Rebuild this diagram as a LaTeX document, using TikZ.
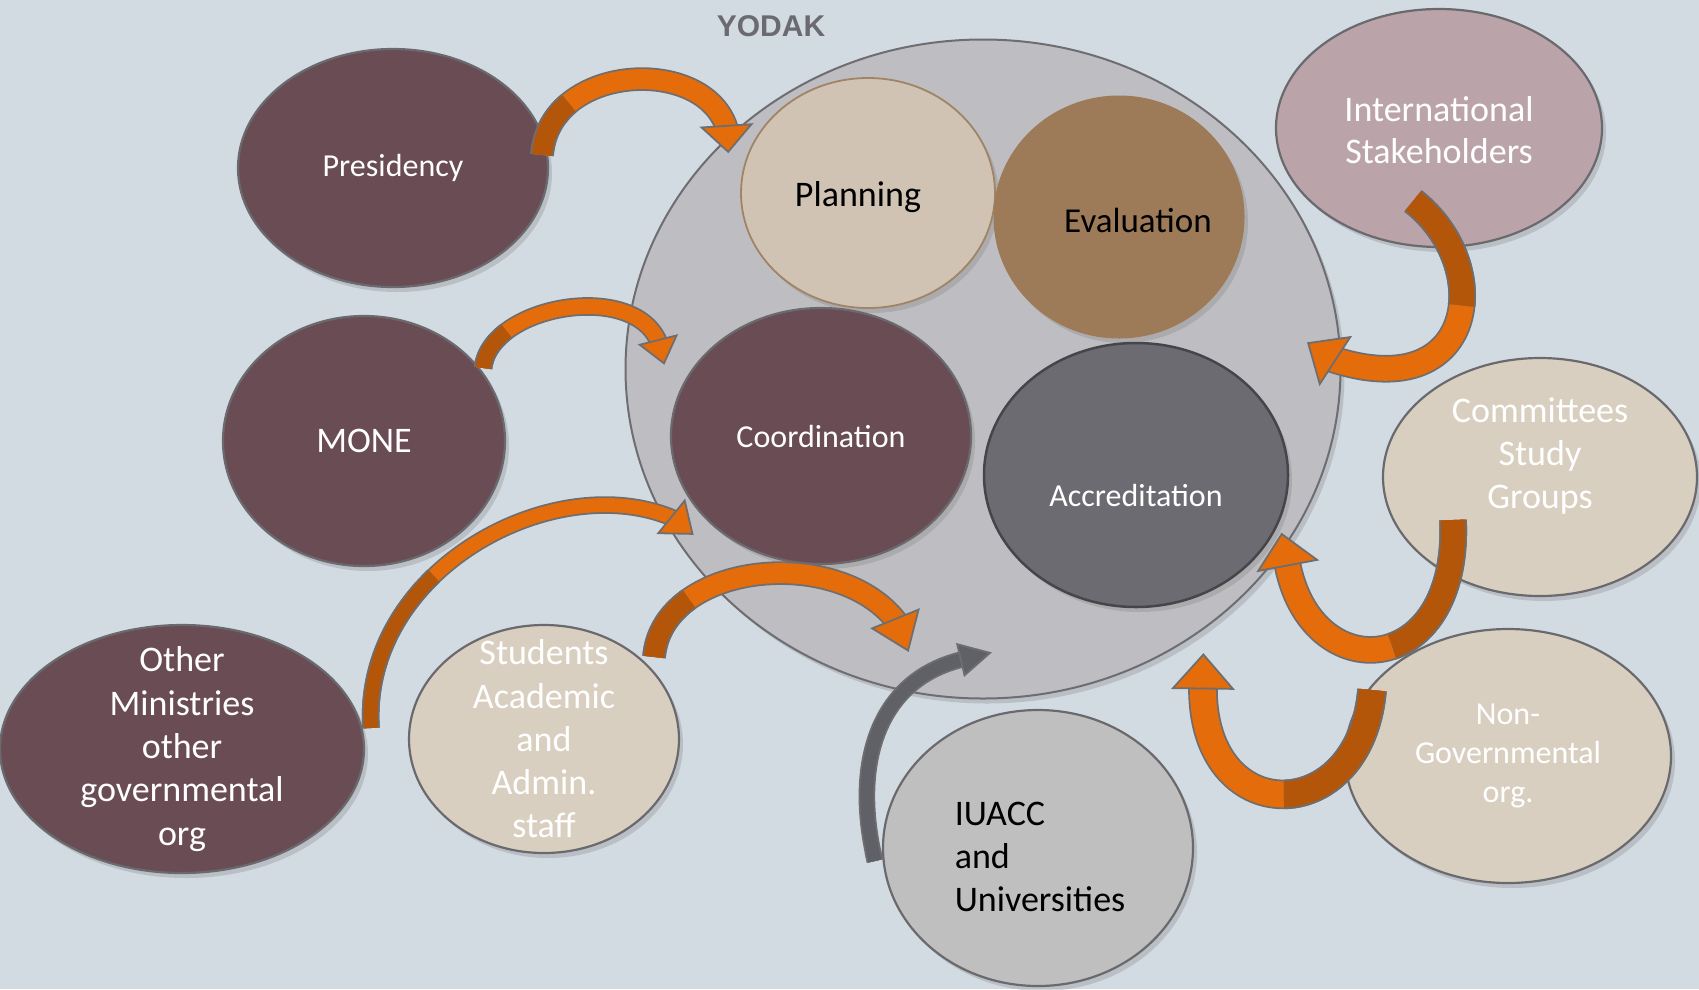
\documentclass[tikz,border=0pt]{standalone}
\usepackage{fontspec}
\setmainfont{Carlito}
\newfontfamily\titlefont{Liberation Sans}
\usetikzlibrary{shapes.geometric,shadows,decorations.markings,calc}
\definecolor{bgc}{HTML}{D3DBE2}
\definecolor{bigc}{HTML}{BEBEC2}
\definecolor{bigedge}{HTML}{6D6D72}
\definecolor{oedge}{HTML}{6A6A6E}
\definecolor{maroon}{HTML}{6A4C55}
\definecolor{beige}{HTML}{D9CFC1}
\definecolor{planc}{HTML}{D0C3B4}
\definecolor{planedge}{HTML}{A08466}
\definecolor{evalc}{HTML}{9D7B58}
\definecolor{accc}{HTML}{6C6B71}
\definecolor{accedge}{HTML}{45454A}
\definecolor{intlc}{HTML}{BBA3AA}
\definecolor{iuaccc}{HTML}{BFBFBF}
\definecolor{aor}{HTML}{E46C0A}
\definecolor{adk}{HTML}{B4560A}
\definecolor{agray}{HTML}{606166}
\definecolor{aedge}{HTML}{6E6E70}
\definecolor{titlec}{HTML}{6A6A70}
\colorlet{amain}{aor}
\newcommand\myfs[2]{\fontsize{#1}{#2}\selectfont}
% #1 tail, #2 ctrl1 (rel), #3 ctrl2 (rel), #4 head base, #5 band width,
% #6 dark length, #7 head half width, #8 head length, #9 head rotation
\newcommand\barrow[9]{%
 \draw[aedge,line width=1.8pt,double=amain,double distance=#5] (#1) .. controls +#2 and +#3 .. (#4);
 \draw[aedge,line width=1.8pt,double=adk,double distance=#5,dash pattern=on #6 off 5000pt] (#1) .. controls +#2 and +#3 .. (#4);
 \path[decoration={markings,mark=at position 0.995 with {\filldraw[rotate=#9,fill=amain,draw=aedge,line width=1.8pt,line join=miter] (-2pt,-#7) -- (#8,0pt) -- (-2pt,#7) -- cycle;}},decorate] (#1) .. controls +#2 and +#3 .. (#4);
}
\begin{document}
\begin{tikzpicture}[x=1pt,y=-1pt,
  oval/.style={ellipse,inner sep=0pt,outer sep=0pt,line width=2.2pt,draw=oedge,
    drop shadow={shadow xshift=4pt,shadow yshift=-5pt,opacity=0.3}},
  lbl/.style={align=center,inner sep=0pt,text=white},
  lblk/.style={align=center,inner sep=0pt,text=black}]
\useasboundingbox (0,0) rectangle (1699,989);
\fill[bgc] (0,0) rectangle (1699,989);
% central body
\node[oval,fill=bigc,draw=bigedge,line width=2pt,minimum width=715pt,minimum height=659pt] (yodak) at (983,369) {};
\node[oval,fill=planc,draw=planedge,line width=1.8pt,minimum width=254pt,minimum height=230pt] (plan) at (868,193) {};
\node[oval,fill=evalc,draw=evalc,line width=1pt,minimum width=250pt,minimum height=242pt] (eval) at (1119,217) {};
\node[oval,fill=maroon,minimum width=300pt,minimum height=256pt] (coord) at (821,436) {};
\node[oval,fill=accc,draw=accedge,line width=2.5pt,minimum width=304pt,minimum height=264pt] (acc) at (1136,475) {};
% outer bodies
\node[oval,fill=maroon,minimum width=310pt,minimum height=238pt] (pres) at (393,168) {};
\node[oval,fill=maroon,minimum width=282pt,minimum height=250pt] (mone) at (364,441) {};
\node[oval,fill=maroon,minimum width=364pt,minimum height=248pt] (other) at (182,749) {};
\node[oval,fill=beige,minimum width=270pt,minimum height=228pt] (stud) at (544,739) {};
\node[oval,fill=iuaccc,minimum width=310pt,minimum height=276pt] (iuacc) at (1038,848) {};
\node[oval,fill=beige,minimum width=326pt,minimum height=254pt] (ngo) at (1508,756) {};
\node[oval,fill=beige,minimum width=314pt,minimum height=238pt] (comm) at (1540,477) {};
\node[oval,fill=intlc,minimum width=326pt,minimum height=238pt] (intl) at (1439,128) {};
% arrow ends
\coordinate (t1) at ($(pres)+(149,-13)$);
\coordinate (h1) at ($(yodak)+(-256,-240)$);
\coordinate (t2) at ($(mone)+(119,-73)$);
\coordinate (h2) at ($(coord)+(-162,-93)$);
\coordinate (t3) at ($(other)+(189,-21)$);
\coordinate (h3) at ($(coord)+(-146,83)$);
\coordinate (t4) at ($(stud)+(110,-82)$);
\coordinate (h4) at ($(yodak)+(-86,253)$);
\coordinate (t5) at ($(iuacc)+(-163,13)$);
\coordinate (h5) at ($(yodak)+(-19,290)$);
\coordinate (t6) at ($(intl)+(-26,73)$);
\coordinate (h6) at ($(yodak)+(349,-10)$);
\coordinate (t7) at ($(comm)+(-87,43)$);
\coordinate (h7) at ($(acc)+(151,87)$);
\coordinate (t8) at ($(ngo)+(-136,-66)$);
\coordinate (h8) at ($(yodak)+(220,316)$);
% arrows
\barrow{t1}{(7,-92)}{(-22,-74)}{h1}{20pt}{60pt}{25pt}{24pt}{-14}
\barrow{t2}{(7,-63)}{(-24,-63)}{h2}{15pt}{45pt}{19pt}{22pt}{-8}
\barrow{t3}{(-10,-158)}{(-120,-53)}{h3}{14pt}{170pt}{21pt}{25pt}{-16}
\barrow{t4}{(8,-95)}{(-59,-78)}{h4}{20pt}{70pt}{25pt}{32pt}{-16}
{\colorlet{amain}{agray}\colorlet{adk}{agray}%
 \barrow{t5}{(-24,-101)}{(-84,19)}{h5}{13pt}{10pt}{16pt}{28pt}{0}}
\barrow{t6}{(83,65)}{(145,48)}{h6}{24pt}{120pt}{28pt}{30pt}{-15}
\barrow{t7}{(7,160)}{(23,128)}{h7}{24pt}{150pt}{30pt}{30pt}{0}
\barrow{t8}{(-12,140)}{(-3,145)}{h8}{26pt}{150pt}{30pt}{32pt}{0}
% texts
\node[font=\titlefont\bfseries\myfs{30}{36},text=titlec] (title) at (771,26) {YODAK};
\node[lblk,font=\myfs{36}{43}] (planT) at ($(plan)+(-10,4)$) {Planning};
\node[lblk,font=\myfs{35}{42}] (evalT) at ($(eval)+(19,3)$) {Evaluation};
\node[lbl,font=\myfs{32}{38}] (coordT) at (coord) {Coordination};
\node[lbl,font=\myfs{32}{38}] (accT) at ($(acc)+(0,20)$) {Accreditation};
\node[lbl,font=\myfs{32}{38}] (presT) at (pres) {Presidency};
\node[lbl,font=\myfs{36}{43}] (moneT) at (mone) {MONE};
\node[lbl,font=\myfs{36}{43.3}] (otherT) at (other) {Other\\Ministries\\other\\governmental\\org};
\node[lbl,font=\myfs{36}{43.3}] (studT) at (stud) {Students\\Academic\\and\\Admin.\\staff};
\node[lblk,align=left,font=\myfs{36}{43.3}] (iuaccT) at ($(iuacc)+(2,9)$) {IUACC\\and\\Universities};
\node[lbl,font=\myfs{32}{39}] (ngoT) at (ngo) {Non-\\Governmental\\org.};
\node[lbl,font=\myfs{36}{43.3}] (commT) at ($(comm)+(0,-21)$) {Committees\\Study\\Groups};
\node[lbl,font=\myfs{36}{42}] (intlT) at ($(intl)+(0,2)$) {International\\Stakeholders};
\end{tikzpicture}
\end{document}
